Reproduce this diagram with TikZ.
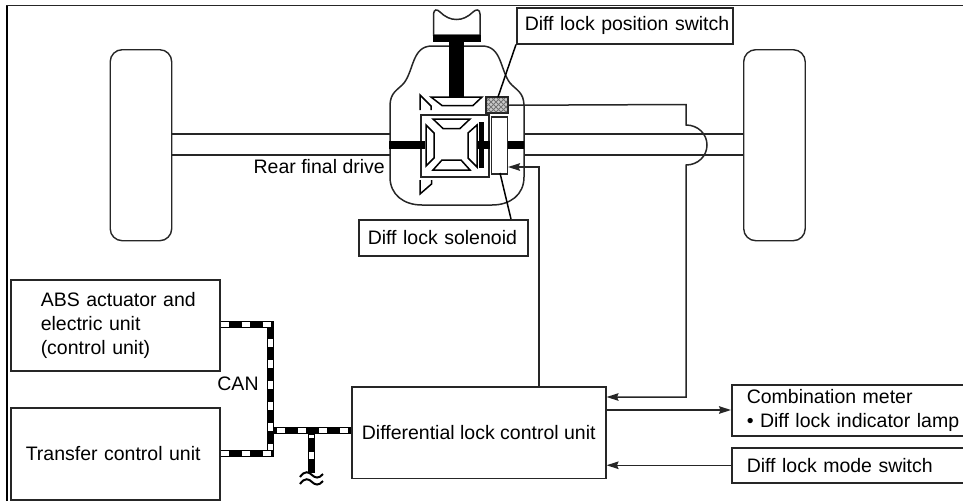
\documentclass[tikz,border=0pt]{standalone}
\usepackage{fontspec}
\setmainfont{Liberation Sans}
\usetikzlibrary{arrows.meta}
\tikzset{
  px/.style={x=1pt,y=-1pt},
  ln/.style={line width=1.5pt,black!85},
  box/.style={draw=black!85,line width=1.5pt,fill=white,anchor=north west,inner sep=0pt,align=left,font=\fontsize{19.5}{24}\selectfont},
  wheel/.style={draw=black!85,line width=1.4pt,rounded corners=12pt,anchor=north west,inner sep=0pt,minimum width=61.5pt,minimum height=191pt},
  lab/.style={inner sep=0pt,font=\fontsize{19.5}{24}\selectfont},
  arr/.style={ln,-{Stealth[length=12pt,width=7.5pt,inset=1.5pt]}},
  busblack/.style={line width=7.5pt,black},
  buswhite/.style={line width=4.5pt,white,dash pattern=on 8pt off 13pt},
  gear/.style={line width=1.5pt,draw=black,fill=white,line join=miter},
}
\newcommand{\ind}[1]{\hspace*{#1pt}}
\begin{document}
\begin{tikzpicture}[px]
\useasboundingbox (0,0) rectangle (963,501);
% frame
\draw[line width=2.5pt,black] (7,501) -- (7,5.5);
\draw[line width=1.6pt,black!85] (6,5.5) -- (963,5.5);

% wheels
\node[wheel] (wl) at (109.5,49) {};
\node[wheel] (wr) at (743,49) {};

% housing
\coordinate (hl1) at (390,134); \coordinate (hl2) at (390,155);
\coordinate (hr1) at (524,134); \coordinate (hr2) at (524,155);
\draw[ln] (wl.east |- hl1) -- (hl1);
\draw[ln] (wl.east |- hl2) -- (hl2);
\draw[ln] (hr1) -- (wr.west |- hr1);
\draw[ln] (hr2) -- (wr.west |- hr2);
\draw[ln] (390,106) .. controls (390,92) and (398,90) .. (404,83)
  .. controls (414,70) and (412,46) .. (432,46) -- (482,46)
  .. controls (502,46) and (500,70) .. (510,83)
  .. controls (516,90) and (524,92) .. (524,106)
  -- (524,177) .. controls (524,195) and (510,205) .. (492,205)
  -- (422,205) .. controls (404,205) and (390,195) .. (390,177) -- cycle;

% pinion yoke
\draw[ln,fill=white] (433.5,35) -- (433.5,14) .. controls (434,9) and (437,9) .. (440,12)
  .. controls (450,22) and (463,22) .. (473,12) .. controls (476,9) and (480,9) .. (480,14) -- (480,35) -- cycle;
\fill[black] (433,35) rectangle (480.5,42);
\fill[black] (449,42) rectangle (464,97);
\draw[gear] (431,97) -- (482,97) -- (473,105.5) -- (442,105.5) -- cycle;
\draw[line width=1.5pt,black] (420,110) -- (420,95) -- (431,106) -- (431,110);

% differential
\fill[black] (506,141) rectangle (524,149);
\node[box,minimum width=68pt,minimum height=62pt] (diff) at (420,114) {};
\fill[black] (389,141) rectangle (425,149);
\draw[gear] (433,119) -- (470,119) -- (460,128.5) -- (443,128.5) -- cycle;
\draw[gear] (433,170) -- (470,170) -- (461,160) -- (442,160) -- cycle;
\draw[gear] (426,125) -- (434,133) -- (434,158) -- (426,166) -- cycle;
\draw[gear] (477,125) -- (468,133) -- (468,158) -- (477,167) -- cycle;
\fill[black] (479,122) rectangle (484,168);
\fill[black] (477,141) rectangle (490,149);
\draw[line width=1.5pt,black] (420,180) -- (420,194) -- (431.5,184) -- (431.5,180);

% solenoid
\node[box,minimum width=16pt,minimum height=57pt] (sol) at (490.5,116) {};

% position switch
\node[draw=black!85,line width=1.5pt,fill=white,anchor=north west,inner sep=0pt,minimum width=21pt,minimum height=15pt] (psw) at (486,97) {};
\begin{scope}
  \clip (486,97) rectangle (507,112);
  \fill[black!20] (486,97) rectangle (507,112);
  \foreach \i in {-20,-15,...,30} {
    \draw[black!55,line width=.8pt] (486+\i,97) -- ++(15,15);
    \draw[black!55,line width=.8pt] (486+\i,112) -- ++(15,-15);
  }
\end{scope}
\draw[black!85,line width=1.5pt] (psw.north west) rectangle (psw.south east);

% label boxes
\node[box,text width=216pt,minimum height=36pt] (poslab) at (516,7) {\ind{8}Diff lock position switch};
\node[box,text width=169pt,minimum height=36pt] (sollab) at (358,219) {\ind{9}Diff lock solenoid};
\draw[line width=1.5pt,black] (poslab.south west) -- (498,97);
\draw[line width=1.5pt,black] (500,173) -- (511,219);

\node[lab,anchor=east] (rfd) at (385,167) {Rear final drive};
\node[lab] (can) at (238,384) {CAN};

% units
\node[box,text width=209pt,minimum height=91pt] (abs) at (10,279) {\ind{30}ABS actuator and\\\ind{30}electric unit\\\ind{30}(control unit)};
\node[box,text width=209pt,minimum height=92pt] (tcu) at (10,407) {\ind{15}Transfer control unit};
\node[box,minimum width=254pt,minimum height=91.5pt,align=center] (dlcu) at (351,386) {Differential lock control unit};
\node[box,text width=235pt,minimum height=51pt] (meter) at (731,384) {\ind{15}Combination meter\\\ind{15}\textbullet\ Diff lock indicator lamp};
\node[box,text width=235pt,minimum height=35pt] (mode) at (731,447) {\ind{15}Diff lock mode switch};

% wires
\draw[arr] (dlcu.north -| 539,386) -- (539,167) -- (sol.east |- 0,167);
\draw[arr] (psw.east) -- (686,104.5) -- (686,125)
  .. controls (698,125) and (707,134) .. (707,145)
  .. controls (707,156) and (698,165) .. (686,165)
  -- (686,397) -- (dlcu.east |- 0,397);
\draw[arr] (dlcu.east |- 0,410) -- (meter.west |- 0,410);
\draw[arr] (mode.west) -- (dlcu.east |- mode.west);

% CAN bus
\coordinate (j1) at (270.5,324.5);
\coordinate (j2) at (270.5,453.5);
\coordinate (j3) at (311.5,430.5);
\coordinate (j4) at (311.5,473);
\draw[busblack] (abs.east |- j1) -- (j1) -- (j2) -- (tcu.east |- j2);
\draw[busblack] (j2 |- j3) -- (dlcu.west |- j3);
\draw[busblack] (j3) -- (j4);
\draw[buswhite] (abs.east |- j1) -- (j1 -| 274,0);
\draw[buswhite] (tcu.east |- j2) -- (j2 -| 274,0);
\draw[buswhite,dash phase=-3pt] (274,430.5) -- (dlcu.west |- j3);
\draw[buswhite,dash phase=10pt] (270.5,328) -- (270.5,450);
\draw[buswhite,dash pattern=on 3pt off 14pt on 7pt off 14pt] (311.5,435) -- (j4);
\draw[line width=2pt,black] (300,477) .. controls (305,470) and (309,472) .. (312,475) .. controls (315,478) and (319,479) .. (323,474);
\draw[line width=2pt,black] (300,484) .. controls (305,477) and (309,479) .. (312,482) .. controls (315,485) and (319,486) .. (323,481);
\end{tikzpicture}
\end{document}
